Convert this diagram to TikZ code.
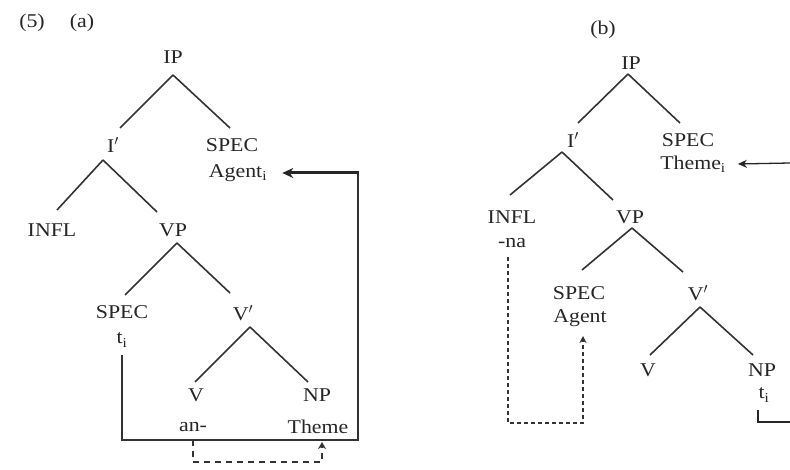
\documentclass[tikz,border=0pt]{standalone}
\usepackage{fontspec}
\setmainfont{Liberation Serif}[FakeStretch=1.12]
\usetikzlibrary{arrows.meta,calc}
\begin{document}
\begin{tikzpicture}[x=1pt,y=-1pt,
  lbl/.style={font=\fontsize{19.5}{21}\selectfont, inner sep=1pt, text=black!85},
  branch/.style={line width=1.6pt, draw=black!80},
  solidarr/.style={line width=1.6pt, draw=black!80},
  dasharr/.style={line width=1.5pt, draw=black!80, dash pattern=on 6pt off 5pt},
  dotarr/.style={line width=1.5pt, draw=black!80, dash pattern=on 4pt off 3pt}]
\useasboundingbox[fill=white] (0,0) rectangle (790,470);

% ---------- (a) ----------
\node[lbl] (n5) at (32,23) {(5)};
\node[lbl] (na) at (82,23) {(a)};
\node[lbl] (IPa) at (173,57) {IP};
\node[lbl] (Ia) at (113,145) {I$'$};
\node[lbl] (SPECa) at (232,145) {SPEC};
\node[lbl] (Agenta) at (238,173) {Agent\textsubscript{i}};
\node[lbl] (INFLa) at (52,230) {INFL};
\node[lbl] (VPa) at (173,230) {VP};
\node[lbl] (SPECta) at (122,312) {SPEC};
\node[lbl] (ta) at (122,340) {t\textsubscript{i}};
\node[lbl] (Vbara) at (243,313) {V$'$};
\node[lbl] (Va) at (196,395) {V};
\node[lbl] (NPa) at (317,395) {NP};
\node[lbl] (ana) at (193,427) {an-};
\node[lbl] (Themea) at (318,427) {Theme};

\draw[branch] ($(IPa)+(0,18)$) -- ($(Ia)+(7,-17)$);
\draw[branch] ($(IPa)+(0,18)$) -- ($(SPECa)+(-2,-17)$);
\draw[branch] ($(Ia)+(-10,15)$) -- ($(INFLa)+(5,-20)$);
\draw[branch] ($(Ia)+(-10,15)$) -- ($(VPa)+(-16,-18)$);
\draw[branch] ($(VPa)+(4,13)$) -- ($(SPECta)+(3,-17)$);
\draw[branch] ($(VPa)+(4,13)$) -- ($(Vbara)+(-13,-20)$);
\draw[branch] ($(Vbara)+(7,14)$) -- ($(Va)+(-1,-13)$);
\draw[branch] ($(Vbara)+(7,14)$) -- ($(NPa)+(-9,-13)$);

\coordinate (a1) at (122,440);
\coordinate (a2) at (358,440);
\coordinate (a3) at (358,173);
\draw[solidarr] ($(ta)+(0,15)$) -- (a1) -- (a2) -- (a3);
\draw[line width=3pt, draw=black!85, -{Stealth[length=11pt,width=10pt]}] ($(a3)+(0.8,0)$) -- ($(Agenta.east)+(14,0)$);

\coordinate (d1) at (193,462);
\coordinate (d2) at (322,462);
\draw[dasharr, -{Stealth[length=7pt,width=8pt]}] ($(ana)+(0,13)$) -- (d1) -- (d2) -- ($(Themea)+(4,15)$);

% ---------- (b) ----------
\node[lbl] (nb) at (603,30) {(b)};
\node[lbl] (IPb) at (631,63) {IP};
\node[lbl] (Ib) at (573,140) {I$'$};
\node[lbl] (SPECb) at (688,140) {SPEC};
\node[lbl] (Themeb) at (693,164) {Theme\textsubscript{i}};
\node[lbl] (INFLb) at (512,217) {INFL};
\node[lbl] (VPb) at (630,217) {VP};
\node[lbl] (nab) at (512,243) {-na};
\node[lbl] (SPECb2) at (579,293) {SPEC};
\node[lbl] (Agentb) at (580,318) {Agent};
\node[lbl] (Vbarb) at (698,293) {V$'$};
\node[lbl] (Vb) at (648,370) {V};
\node[lbl] (NPb) at (762,370) {NP};
\node[lbl] (tb) at (764,395) {t\textsubscript{i}};

\draw[branch] ($(IPb)+(-3,11)$) -- ($(Ib)+(5,-17)$);
\draw[branch] ($(IPb)+(-3,11)$) -- ($(SPECb)+(-8,-17)$);
\draw[branch] ($(Ib)+(-11,12)$) -- ($(INFLb)+(-2,-22)$);
\draw[branch] ($(Ib)+(-11,12)$) -- ($(VPb)+(-17,-17)$);
\draw[branch] ($(VPb)+(2,11)$) -- ($(SPECb2)+(3,-23)$);
\draw[branch] ($(VPb)+(2,11)$) -- ($(Vbarb)+(-15,-21)$);
\draw[branch] ($(Vbarb)+(2,14)$) -- ($(Vb)+(2,-15)$);
\draw[branch] ($(Vbarb)+(2,14)$) -- ($(NPb)+(-9,-15)$);

\coordinate (bT) at (790,163);
\draw[line width=1.3pt, draw=black!85, -{Stealth[length=9pt,width=8pt]}] (bT) -- ($(Themeb.east)+(11,0)$);

\coordinate (bN1) at (758,422);
\coordinate (bN2) at (790,422);
\draw[line width=1.8pt, draw=black!85] ($(tb)+(-6,15)$) -- (bN1) -- (bN2);

\coordinate (bd1) at (508,423);
\coordinate (bd2) at (583,423);
\draw[dotarr, -{Stealth[length=7pt,width=7pt]}] ($(nab)+(-4,14)$) -- (bd1) -- (bd2) -- ($(Agentb)+(3,18)$);
\end{tikzpicture}
\end{document}
